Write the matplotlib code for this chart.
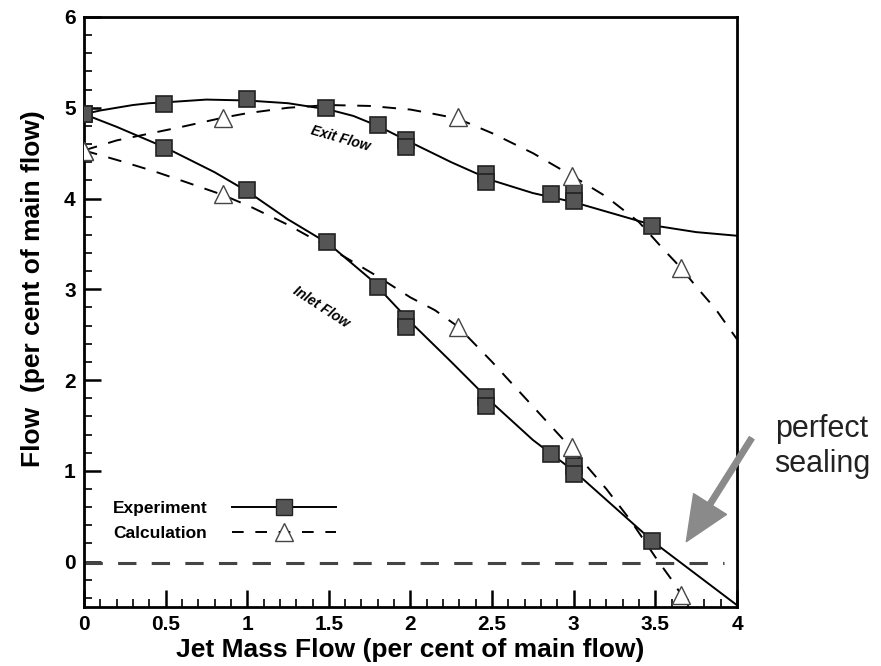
import matplotlib.pyplot as plt
import matplotlib.ticker as mticker

plt.rcParams['font.family'] = ['Liberation Sans', 'DejaVu Sans']

# Measured points (squares = experiment, triangles = calculation)
exit_exp_x = [0.0, 0.49, 1.0, 1.48, 1.8, 1.97, 1.97, 2.46, 2.46, 2.86, 3.0, 3.0, 3.48]
exit_exp_y = [4.93, 5.04, 5.10, 5.0, 4.81, 4.65, 4.57, 4.27, 4.18, 4.05, 4.06, 3.97, 3.70]
inlet_exp_x = [0.0, 0.49, 1.0, 1.49, 1.8, 1.97, 1.97, 2.46, 2.46, 2.86, 3.0, 3.0, 3.48]
inlet_exp_y = [4.93, 4.56, 4.09, 3.52, 3.03, 2.67, 2.58, 1.81, 1.71, 1.19, 1.05, 0.97, 0.23]

exit_calc_x = [0.0, 0.85, 2.29, 2.99, 3.66]
exit_calc_y = [4.52, 4.89, 4.90, 4.25, 3.23]
inlet_calc_x = [0.0, 0.85, 2.29, 2.99, 3.66]
inlet_calc_y = [4.52, 4.05, 2.59, 1.26, -0.37]

# Fitted curves
exit_fit_x = [0.0, 0.1, 0.2, 0.3, 0.4, 0.5, 0.75, 1.0, 1.25, 1.5, 1.65, 1.8, 2.0, 2.25, 2.5, 2.75, 3.0, 3.25, 3.5, 3.75, 4.0]
exit_fit_y = [4.93, 4.97, 5.00, 5.03, 5.05, 5.06, 5.09, 5.08, 5.05, 4.98, 4.91, 4.80, 4.62, 4.40, 4.20, 4.06, 3.96, 3.83, 3.70, 3.63, 3.59]
inlet_fit_x = [0.0, 0.2, 0.5, 0.8, 1.0, 1.25, 1.5, 1.75, 2.0, 2.25, 2.5, 2.75, 3.0, 3.25, 3.5, 3.75, 4.0]
inlet_fit_y = [4.93, 4.79, 4.56, 4.29, 4.08, 3.77, 3.50, 3.12, 2.64, 2.20, 1.75, 1.34, 1.00, 0.60, 0.20, -0.14, -0.48]

exit_calc_fit_x = [0.0, 0.2, 0.6, 0.85, 1.0, 1.25, 1.5, 1.75, 2.0, 2.15, 2.29, 2.5, 2.75, 3.0, 3.2, 3.4, 3.55, 3.66, 3.75, 3.87, 4.0]
exit_calc_fit_y = [4.53, 4.64, 4.79, 4.89, 4.94, 5.00, 5.03, 5.02, 4.98, 4.93, 4.88, 4.72, 4.50, 4.24, 4.02, 3.74, 3.44, 3.23, 3.03, 2.78, 2.45]
inlet_calc_fit_x = [0.0, 0.23, 0.43, 0.61, 0.85, 1.02, 1.25, 1.5, 1.8, 2.0, 2.15, 2.29, 2.5, 2.75, 3.0, 3.2, 3.35, 3.5, 3.6, 3.66, 3.7]
inlet_calc_fit_y = [4.53, 4.41, 4.30, 4.19, 4.04, 3.91, 3.71, 3.46, 3.14, 2.91, 2.77, 2.59, 2.20, 1.71, 1.22, 0.80, 0.45, 0.05, -0.20, -0.37, -0.5]

sealing_y = -0.02

square_face = '#555555'

fig = plt.figure(figsize=(8.81, 6.66), dpi=100)
ax = fig.add_axes([0.0953, 0.0886, 0.7412, 0.8859])

ax.plot(exit_fit_x, exit_fit_y, color='black', lw=1.4)
ax.plot(inlet_fit_x, inlet_fit_y, color='black', lw=1.4)
ax.plot(exit_calc_fit_x, exit_calc_fit_y, color='black', lw=1.4, dashes=(7, 6))
ax.plot(inlet_calc_fit_x, inlet_calc_fit_y, color='black', lw=1.4, dashes=(7, 6))

sq = dict(marker='s', ms=12, mfc=square_face, mec='#222222', mew=1.2, ls='none', zorder=4)
tri = dict(marker='^', ms=13, mfc='white', mec='#444444', mew=1.0, ls='none', zorder=4)
ax.plot(exit_exp_x, exit_exp_y, **sq)
ax.plot(inlet_exp_x, inlet_exp_y, **sq)
ax.plot(exit_calc_x, exit_calc_y, **tri)
ax.plot(inlet_calc_x, inlet_calc_y, **tri)

ax.axhline(sealing_y, xmin=0.0, xmax=0.98, color='#444444', lw=2.2, dashes=(6, 5))

# legend
h_exp, = ax.plot([], [], color='black', lw=1.4, marker='s', ms=12, mfc=square_face, mec='#222222')
h_calc, = ax.plot([], [], color='black', lw=1.4, dashes=(6, 6), marker='^', ms=13, mfc='white', mec='#444444')
ax.legend([h_exp, h_calc], ['Experiment', 'Calculation'], loc='lower left',
          bbox_to_anchor=(0.02, 0.085), frameon=False, markerfirst=False,
          handlelength=6.0, handletextpad=1.4, labelspacing=0.6,
          prop=dict(weight='bold', size=12.5))

ax.text(1.57, 4.66, 'Exit Flow', rotation=-16, fontsize=10, fontweight='bold',
        style='italic', ha='center', va='center')
ax.text(1.45, 2.8, 'Inlet Flow', rotation=-33, fontsize=10, fontweight='bold',
        style='italic', ha='center', va='center')

ax.annotate('', xy=(3.69, 0.22), xytext=(4.09, 1.36), annotation_clip=False,
            arrowprops=dict(width=4, headwidth=28, headlength=32,
                            facecolor='#8a8a8a', edgecolor='#8a8a8a'))
ax.text(4.52, 1.27, 'perfect\nsealing', fontsize=22, ha='center', va='center',
        linespacing=1.2, clip_on=False, color='#222222')

ax.set_xlim(0, 4)
ax.set_ylim(-0.5, 6)
ax.xaxis.set_major_locator(mticker.MultipleLocator(0.5))
ax.xaxis.set_minor_locator(mticker.MultipleLocator(0.1))
ax.yaxis.set_major_locator(mticker.MultipleLocator(1))
ax.yaxis.set_minor_locator(mticker.MultipleLocator(0.2))
ax.xaxis.set_major_formatter(mticker.FuncFormatter(lambda v, p: f'{v:g}'))
ax.yaxis.set_major_formatter(mticker.FuncFormatter(lambda v, p: f'{v:g}'))
ax.tick_params(which='major', direction='in', length=12, width=1.8, labelsize=15, pad=6)
ax.tick_params(which='minor', direction='in', length=6, width=1.2)
ax.tick_params(top=False, right=False)
for lbl in ax.get_xticklabels() + ax.get_yticklabels():
    lbl.set_fontweight('bold')
for s in ax.spines.values():
    s.set_linewidth(2)

ax.set_xlabel('Jet Mass Flow (per cent of main flow)', fontsize=19, fontweight='bold', labelpad=3)
ax.set_ylabel('Flow  (per cent of main flow)', fontsize=19, fontweight='bold')
ax.yaxis.set_label_coords(-0.06, 0.54)

fig.savefig('out.png', dpi=100)
